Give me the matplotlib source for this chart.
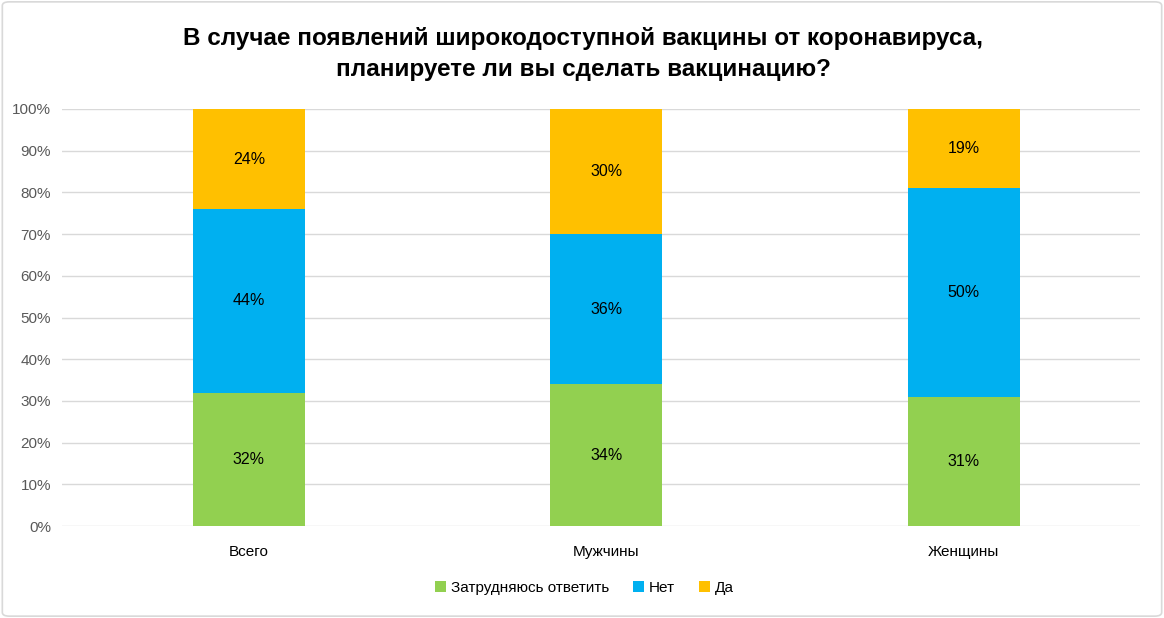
import matplotlib.pyplot as plt
from matplotlib.patches import FancyBboxPatch
import numpy as np

categories = ['Всего', 'Мужчины', 'Женщины']
series_names = ['Затрудняюсь ответить', 'Нет', 'Да']
hard_to_say = [32, 34, 31]
no = [44, 36, 50]
yes = [24, 30, 19]
colors = ['#92D050', '#00B0F0', '#FFC000']
yticks = np.arange(0, 101, 10)

plt.rcParams['font.family'] = ['Liberation Sans Narrow', 'Liberation Sans', 'DejaVu Sans']

fig = plt.figure(figsize=(11.64, 6.18), dpi=100)
ax = fig.add_axes([62 / 1164, 1 - 526 / 618, (1140 - 62) / 1164, (526 - 109) / 618])

x = np.arange(len(categories))
bottom = np.zeros(len(categories))
for name, vals, col in zip(series_names, [hard_to_say, no, yes], colors):
    vals = np.array(vals, dtype=float)
    ax.bar(x, vals, width=0.313, bottom=bottom, color=col, label=name, zorder=3)
    for xi, b, v in zip(x, bottom, vals):
        ax.text(xi, b + v / 2, f'{int(v)}%', ha='center', va='center', fontsize=11.5,
                color='black', zorder=4)
    bottom += vals

ax.set_xlim(-0.523, 2.493)
ax.set_ylim(0, 100)
ax.set_yticks(yticks)
ax.set_yticklabels([f'{t}%' for t in yticks], fontsize=11, color='#595959')
ax.set_xticks(x)
ax.set_xticklabels(categories, fontsize=11, color='black')
ax.tick_params(axis='both', length=0, pad=8)
ax.tick_params(axis='x', pad=14)
ax.grid(axis='y', color='#D9D9D9', linewidth=1, zorder=0)
for s in ax.spines.values():
    s.set_visible(False)

fig.text(0.501, 1 - 54 / 618,
         'В случае появлений широкодоступной вакцины от коронавируса,\nпланируете ли вы сделать вакцинацию?',
         ha='center', va='center', fontsize=17.5, fontweight='bold', linespacing=1.4)

handles, labels = ax.get_legend_handles_labels()
fig.legend(handles, labels, loc='center', bbox_to_anchor=(0.502, 1 - 588 / 618), ncol=3, frameon=False,
           fontsize=11, handlelength=0.7, handleheight=0.7, handletextpad=0.3, columnspacing=1.6)

fig.patches.append(FancyBboxPatch((0.002, 0.003), 0.996, 0.994, boxstyle='round,pad=0,rounding_size=0.006',
                                  transform=fig.transFigure, fill=False, edgecolor='#D9D9D9', linewidth=1.2))

fig.savefig('out.png', dpi=100)
